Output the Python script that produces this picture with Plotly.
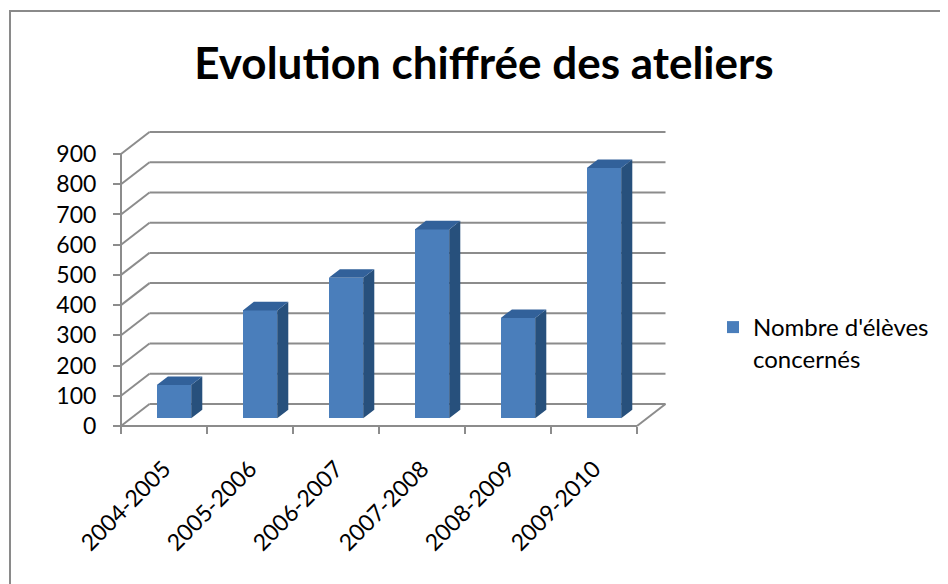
import plotly.graph_objects as go

# ---- data ----
categories = ["2004-2005", "2005-2006", "2006-2007", "2007-2008", "2008-2009", "2009-2010"]
values = [110, 357, 465, 625, 332, 828]
series_name = "Nombre d'élèves<br>concernés"
y_ticks = [0, 100, 200, 300, 400, 500, 600, 700, 800, 900]
title_text = "Evolution chiffrée des ateliers"

# ---- layout geometry (screen pixels; page body has an 8px margin) ----
OFF = 8
W, H = 948, 584
PLOT_L, PLOT_R, PLOT_T, PLOT_B = 116, 668, 128, 430   # screen px
ML, MT = PLOT_L - OFF, PLOT_T - OFF
MR, MB = W - (PLOT_R - OFF), H - (PLOT_B - OFF)
PW = PLOT_R - PLOT_L
PH = PLOT_B - PLOT_T
UX = 86.0           # px per category
UY = 272.0 / 900    # px per value unit
FRONT_X0_PX = 121   # screen px of the front-left axis
FRONT_Y0_PX = 426   # screen px of value 0 on the front
x_start = -0.5 - (FRONT_X0_PX - PLOT_L) / UX
x_range = [x_start, x_start + PW / UX]
y_start = -(PLOT_B - FRONT_Y0_PX) / UY
y_range = [y_start, y_start + PH / UY]

DX = 28.5 / UX      # depth offset in x units
DY = 22.0 / UY      # depth offset in y units
POS = 0.35          # depth position of bar front face
BD = 0.39           # bar depth fraction
BW = 0.4            # bar width

GRID = "#8C8C8C"
FRONT = "#4A7EBB"
SIDE = "#27507C"
TOP = "#32619A"
FONT = "Lato"

def px_to_paper_x(px):
    return (px - PLOT_L) / PW

def px_to_paper_y(py):
    return (PLOT_B - py) / PH

n = len(categories)
centers = list(range(n))
bar_x = [c + POS * DX for c in centers]
base = POS * DY

fig = go.Figure()
fig.add_trace(go.Bar(
    x=bar_x, y=values, base=[base] * n, width=BW,
    marker=dict(color=FRONT, line=dict(width=0)),
    name=series_name, showlegend=True, hoverinfo="skip",
))

side_x, side_y, top_x, top_y = [], [], [], []
sdx, sdy = BD * DX, BD * DY
for bx, v in zip(bar_x, values):
    xl, xr = bx - BW / 2, bx + BW / 2
    yt = base + v
    side_x += [xr, xr + sdx, xr + sdx, xr, xr, None]
    side_y += [base, base + sdy, yt + sdy, yt, base, None]
    top_x += [xl, xr, xr + sdx, xl + sdx, xl, None]
    top_y += [yt, yt, yt + sdy, yt + sdy, yt, None]

fig.add_trace(go.Scatter(x=side_x, y=side_y, fill="toself", fillcolor=SIDE,
                         mode="lines", line=dict(width=0, color=SIDE),
                         showlegend=False, hoverinfo="skip", xaxis="x2"))
fig.add_trace(go.Scatter(x=top_x, y=top_y, fill="toself", fillcolor=TOP,
                         mode="lines", line=dict(width=0, color=TOP),
                         showlegend=False, hoverinfo="skip", xaxis="x2"))

shapes = []
line = dict(color=GRID, width=2)
for v in y_ticks:
    shapes.append(dict(type="line", xref="x", yref="y", x0=-0.5 + DX, x1=n - 0.5 + DX,
                       y0=v + DY, y1=v + DY, line=line, layer="below"))
    shapes.append(dict(type="line", xref="x", yref="y", x0=-0.5, x1=-0.5 + DX,
                       y0=v, y1=v + DY, line=line, layer="below"))
shapes.append(dict(type="line", xref="x", yref="y", x0=-0.5, x1=-0.5,
                   y0=0, y1=y_ticks[-1], line=line, layer="below"))
shapes.append(dict(type="line", xref="x", yref="y", x0=-0.5, x1=n - 0.5,
                   y0=0, y1=0, line=line, layer="below"))
shapes.append(dict(type="line", xref="x", yref="y", x0=n - 0.5, x1=n - 0.5 + DX,
                   y0=0, y1=DY, line=line, layer="below"))
# outer chart border
shapes.append(dict(type="rect", xref="paper", yref="paper",
                   x0=px_to_paper_x(10), x1=px_to_paper_x(970),
                   y0=px_to_paper_y(610), y1=px_to_paper_y(11),
                   line=dict(color="#8A8A8A", width=2), layer="below"))

axis_pos_x = px_to_paper_y(FRONT_Y0_PX)
fig.update_layout(
    width=W, height=H,
    margin=dict(l=ML, r=MR, t=MT, b=MB, autoexpand=False),
    paper_bgcolor="white", plot_bgcolor="white",
    font=dict(family=FONT, color="#000000", size=23),
    title=dict(text="<b>" + title_text + "</b>", font=dict(family=FONT, size=44, color="#000000"),
               x=(484 - OFF) / W, xanchor="center", xref="container",
               y=1 - (64 - OFF) / H, yanchor="middle", yref="container"),
    xaxis=dict(range=x_range, tickvals=[i - 0.5 for i in range(n + 1)],
               showticklabels=False, ticks="outside", ticklen=7, tickwidth=2,
               tickcolor=GRID, showgrid=False, zeroline=False, showline=False,
               anchor="free", position=axis_pos_x, fixedrange=True),
    xaxis2=dict(range=x_range, overlaying="x", tickvals=centers, ticktext=categories,
                tickangle=-45, ticks="", showgrid=False, zeroline=False, showline=False,
                anchor="free", position=axis_pos_x, ticklabelstandoff=24,
                tickfont=dict(family=FONT, size=23, color="#000000"), fixedrange=True),
    yaxis=dict(range=y_range, tickvals=y_ticks, ticks="outside", ticklen=8, tickwidth=2,
               tickcolor=GRID, showgrid=False, zeroline=False, showline=False,
               anchor="free", position=px_to_paper_x(FRONT_X0_PX), ticklabelstandoff=12,
               tickfont=dict(family=FONT, size=23, color="#000000"), fixedrange=True),
    legend=dict(x=px_to_paper_x(713), y=px_to_paper_y(305), xanchor="left", yanchor="top",
                valign="top", font=dict(family=FONT, size=24, color="#000000"),
                bgcolor="rgba(0,0,0,0)"),
    shapes=shapes,
    showlegend=True,
    bargap=0,
)

fig.write_html("out.html")
